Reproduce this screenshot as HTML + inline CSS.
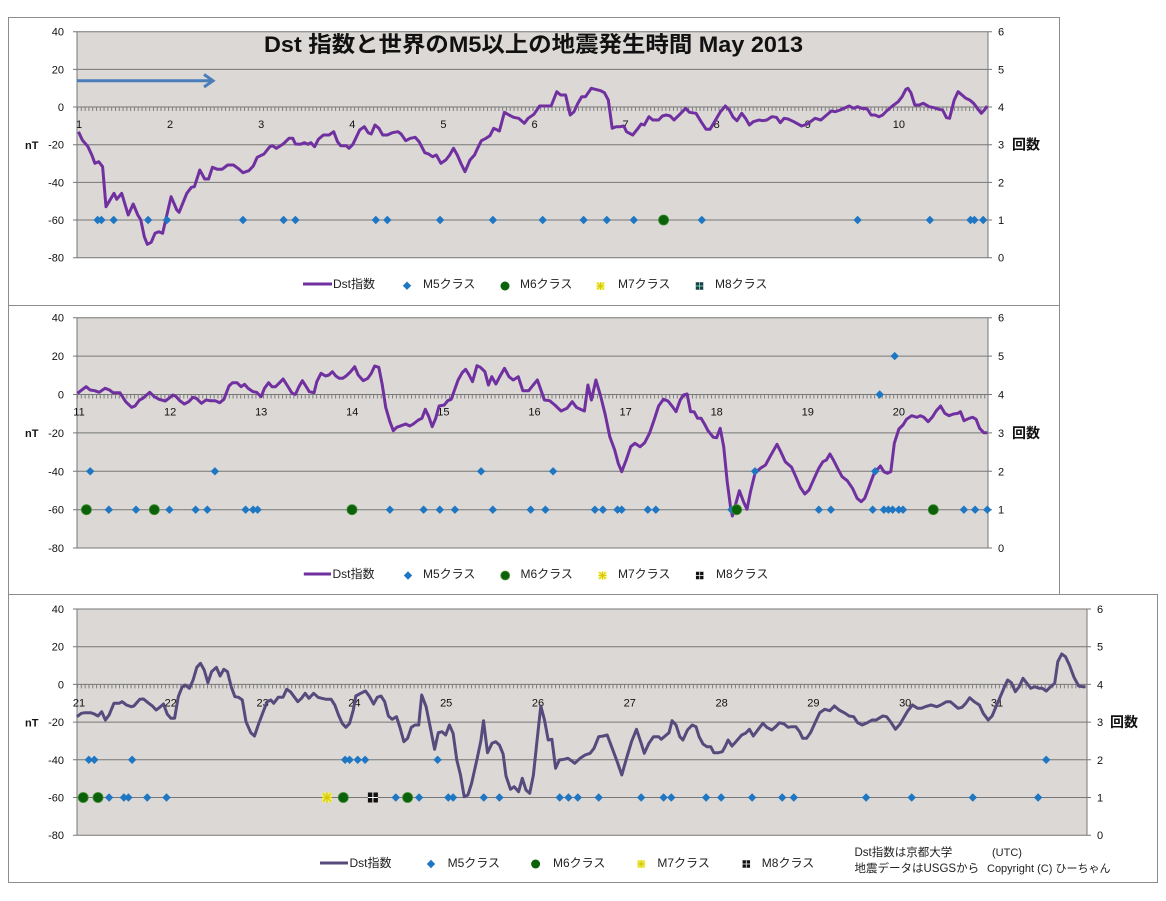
<!DOCTYPE html>
<html><head><meta charset="utf-8"><style>
html,body{margin:0;padding:0;background:#fff;}
svg{display:block;}
text{font-family:"Liberation Sans","Noto Sans CJK JP",sans-serif;fill:#111;}
.ax{font-size:11px;}
.lg{font-size:12px;fill:#222;}
.b{font-weight:bold;}
</style></head><body>
<svg width="1166" height="901" viewBox="0 0 1166 901" xmlns="http://www.w3.org/2000/svg">
<defs>
<path id="dm" d="M0,-4.2L4.2,0L0,4.2L-4.2,0Z" fill="#1f77c4"/>
<g id="m6"><circle r="5" fill="#0b620b" stroke="#3a8a2a" stroke-width="0.8"/></g>
<g id="m7"><rect x="-5" y="-5" width="10" height="10" fill="#f4f25a" opacity="0.8"/><path d="M-5,0H5M0,-5V5M-4,-4L4,4M-4,4L4,-4" stroke="#d8c800" stroke-width="1.2"/></g>
<g id="m8"><rect x="-5" y="-5" width="10" height="10" fill="#111"/><path d="M-5,0H5M0,-5V5" stroke="#fff" stroke-width="1"/></g>
<pattern id="tk1" patternUnits="userSpaceOnUse" x="77" y="0" width="3.796" height="10"><rect x="0" y="0" width="1" height="10" fill="#7d7d7d"/></pattern>
<pattern id="tk3" patternUnits="userSpaceOnUse" x="77" y="0" width="3.825" height="10"><rect x="0" y="0" width="1" height="10" fill="#7d7d7d"/></pattern>
</defs>
<rect width="1166" height="901" fill="#fff"/>

<rect x="8.5" y="17.5" width="1051" height="288" fill="none" stroke="#8c8c8c"/>
<rect x="8.5" y="305.5" width="1051" height="289" fill="none" stroke="#8c8c8c"/>
<rect x="8.5" y="594.5" width="1149" height="288" fill="none" stroke="#8c8c8c"/>

<!-- ============ PANEL 1 ============ -->
<rect x="77" y="31.7" width="911" height="226" fill="#dbd8d5"/>
<g stroke="#777" stroke-width="1" fill="none">
<path d="M73,31.7H988M73,69.4H988M73,107H988M73,144.7H988M73,182.4H988M73,220H988M73,257.7H988"/>
<path d="M988,31.7H992M988,69.4H992M988,107H992M988,144.7H992M988,182.4H992M988,220H992M988,257.7H992"/>
<path d="M77,31.7V257.7M988,31.7V257.7"/>
</g>
<rect x="77" y="107" width="911" height="4" fill="url(#tk1)"/>
<g class="ax" text-anchor="end">
<text x="64" y="35.7">40</text><text x="64" y="73.4">20</text><text x="64" y="111">0</text><text x="64" y="148.7">-20</text><text x="64" y="186.4">-40</text><text x="64" y="224">-60</text><text x="64" y="261.7">-80</text>
</g>
<g class="ax">
<text x="998" y="35.7">6</text><text x="998" y="73.4">5</text><text x="998" y="111">4</text><text x="998" y="148.7">3</text><text x="998" y="186.4">2</text><text x="998" y="224">1</text><text x="998" y="261.7">0</text>
</g>
<text x="25" y="149" class="b" style="font-size:11px">nT</text>
<text x="1012" y="149.5" class="b" style="font-size:14px">回数</text>
<g class="ax" text-anchor="middle">
<text x="79" y="128">1</text><text x="170.1" y="128">2</text><text x="261.2" y="128">3</text><text x="352.3" y="128">4</text><text x="443.4" y="128">5</text><text x="534.5" y="128">6</text><text x="625.6" y="128">7</text><text x="716.7" y="128">8</text><text x="807.8" y="128">9</text><text x="898.9" y="128">10</text>
</g>
<text x="264" y="52" class="b" style="font-size:22px" textLength="539" lengthAdjust="spacingAndGlyphs">Dst 指数と世界のM5以上の地震発生時間  May 2013</text>
<path d="M77,80.7H212" stroke="#4a7ebb" stroke-width="3" fill="none"/>
<path d="M204,74.5L213,80.7L204,87" stroke="#4a7ebb" stroke-width="3" fill="none"/>
<polyline fill="none" stroke="#7030a0" stroke-width="3" stroke-linejoin="round" points="78.5,131.7 82.3,140 88,146.7 91.8,155 94.9,163.3 98.7,161.7 102.6,166.7 106,206.7 111,198.3 114,193.3 116.7,199.3 121.7,193.3 128.2,215 133.2,204 137.8,215 140.8,220 144.3,236.7 147.3,244.3 151.2,242.3 155,233.3 158.8,231.7 162.6,233.3 171.1,196.7 176.8,210 179.1,212.3 186.8,193.3 191.4,187.3 194.4,186.7 199.8,170 204.7,179 208.6,179 212.4,167.3 217.4,169.3 222,169.3 227.7,165 233.4,165 238,168.3 243,172.7 248.8,170.7 253.3,166 257.2,157.3 264,154 269.8,146.7 272.5,145.7 276.3,148.3 283.2,144 289,138.3 292.8,138.3 295.4,144 300.4,144.3 304.2,142.7 308.1,144.3 310.8,142.7 314.6,146.7 318.4,139.3 323.4,135 329.1,135 333.7,131.7 337.5,141.7 340.6,145.7 346.3,145.7 349,148.3 352.9,144.3 359.7,130 364.3,126.7 368.2,132.7 371.2,134 375,125 378.9,128.3 382.7,135 387.3,135 392.3,132.7 398,131.7 401.1,134 405.7,140.7 410.3,138.3 415.2,137.3 419.1,141.7 424.8,152.7 428.6,154 432.5,156.7 436.3,155 440.9,163.3 445.8,160 449.7,155 453.5,148.3 457.3,155 461.2,164 465,171.7 470,160 474.5,155 477.6,148.3 481.4,140.7 486,138.3 489.9,135.7 493.7,128.3 499.4,131 504.4,112.3 509,115 513.6,117.3 518.6,118.3 524.3,123.3 528.1,118.3 533.9,114.3 539.6,106 545.3,106 551.1,106 556.8,91.7 560.6,95 565.6,95 570.2,115 574,111.7 577.9,103.3 581.7,96.7 585.5,96.7 591.3,88.3 600.6,90.7 604.4,92.7 608.3,100 612.2,128.3 616,126.7 619.9,126.7 623.8,126 626.5,131.7 632.7,135 637.3,129.3 641.2,124 644.3,125 648.9,116.7 652.8,120 658.6,120 662.4,116 666.3,115 670.2,116 674,120 679.8,114.3 685.6,108.3 689.5,112.3 696,113.3 701.1,121.7 706.1,129.3 710,129.3 714.6,121.7 720.4,111.7 725.4,106 729.3,110 733.2,117.3 737,120.7 741.7,113.3 745.5,118.3 749.4,125 753.3,121.7 759,120 762.9,120.7 766.8,120 771.8,116.7 776.4,117.3 780.3,122.7 784.2,118.3 788,119 793.8,121.7 801.6,126 807.4,124 810.5,121.7 815.1,118.3 820.9,120 826.7,115 831.3,111 835.2,111.7 840.2,110 845.2,107.7 849.1,106 853.7,108.3 857.6,106.7 861.5,108.3 867.3,109 871.1,115 875,115 878.9,116.7 882.7,115 886.6,111 892.4,106 898.2,101.7 902.1,96.7 905.9,89.3 907.9,88.3 910.9,92.7 914.8,105 919.4,105 923.3,103.3 929.1,106.7 934.1,107.7 938.8,109.3 942.6,110 946.5,117.7 949.6,118.3 954.2,100 958.1,91.7 962,95 965.8,98.3 969.7,100 973.6,103.3 977.4,108.3 981.3,113.3 984.4,110 987.1,106"/>
<g>
<use href="#dm" x="97.6" y="220"/><use href="#dm" x="101.4" y="220"/><use href="#dm" x="113.7" y="220"/><use href="#dm" x="148.1" y="220"/><use href="#dm" x="166.9" y="220"/><use href="#dm" x="243" y="220"/><use href="#dm" x="283.6" y="220"/><use href="#dm" x="295.4" y="220"/><use href="#dm" x="375.8" y="220"/><use href="#dm" x="387.3" y="220"/><use href="#dm" x="440.1" y="220"/><use href="#dm" x="492.9" y="220"/><use href="#dm" x="542.7" y="220"/><use href="#dm" x="583.6" y="220"/><use href="#dm" x="606.8" y="220"/><use href="#dm" x="633.8" y="220"/><use href="#dm" x="701.8" y="220"/><use href="#dm" x="857.6" y="220"/><use href="#dm" x="929.9" y="220"/><use href="#dm" x="970.5" y="220"/><use href="#dm" x="974.4" y="220"/><use href="#dm" x="983.2" y="220"/>
<use href="#m6" x="663.6" y="220"/>
</g>
<path d="M303,284H332" stroke="#7030a0" stroke-width="3"/>
<text x="333" y="288" class="lg">Dst指数</text>
<use href="#dm" x="407" y="285.7"/>
<text x="423" y="288" class="lg">M5クラス</text>
<circle cx="505" cy="286" r="4.5" fill="#0b620b"/>
<text x="520" y="288" class="lg">M6クラス</text>
<g transform="translate(600.5,286) scale(0.8)"><use href="#m7"/></g>
<text x="618" y="288" class="lg">M7クラス</text>
<g transform="translate(699.5,286) scale(0.75)"><rect x="-5" y="-5" width="10" height="10" fill="#1d3b4a"/><path d="M-5,0H5M0,-5V5" stroke="#8fb" stroke-width="1"/></g>
<text x="715" y="288" class="lg">M8クラス</text>

<!-- ============ PANEL 2 ============ -->
<rect x="77" y="317.7" width="911" height="230.3" fill="#dbd8d5"/>
<g stroke="#777" stroke-width="1" fill="none">
<path d="M73,317.7H988M73,356.1H988M73,394.5H988M73,432.9H988M73,471.3H988M73,509.7H988M73,548H988"/>
<path d="M988,317.7H992M988,356.1H992M988,394.5H992M988,432.9H992M988,471.3H992M988,509.7H992M988,548H992"/>
<path d="M77,317.7V548M988,317.7V548"/>
</g>
<rect x="77" y="394.5" width="911" height="4" fill="url(#tk1)"/>
<g class="ax" text-anchor="end">
<text x="64" y="321.7">40</text><text x="64" y="360.1">20</text><text x="64" y="398.5">0</text><text x="64" y="436.9">-20</text><text x="64" y="475.3">-40</text><text x="64" y="513.7">-60</text><text x="64" y="552">-80</text>
</g>
<g class="ax">
<text x="998" y="321.7">6</text><text x="998" y="360.1">5</text><text x="998" y="398.5">4</text><text x="998" y="436.9">3</text><text x="998" y="475.3">2</text><text x="998" y="513.7">1</text><text x="998" y="552">0</text>
</g>
<text x="25" y="437" class="b" style="font-size:11px">nT</text>
<text x="1012" y="438" class="b" style="font-size:14px">回数</text>
<g class="ax" text-anchor="middle">
<text x="79" y="415.5">11</text><text x="170.1" y="415.5">12</text><text x="261.2" y="415.5">13</text><text x="352.3" y="415.5">14</text><text x="443.4" y="415.5">15</text><text x="534.5" y="415.5">16</text><text x="625.6" y="415.5">17</text><text x="716.7" y="415.5">18</text><text x="807.8" y="415.5">19</text><text x="898.9" y="415.5">20</text>
</g>
<polyline fill="none" stroke="#7030a0" stroke-width="3" stroke-linejoin="round" points="77.5,393.3 80.9,390.7 86.1,386.7 90.2,390 94.7,390.7 99.2,392.3 105,388.3 109.5,390 113,392.7 119.9,392.7 125.7,401.7 131.6,407.3 135,406 139.5,400 142.9,398.3 149.8,392.3 154.3,396.7 159.1,399.3 165.3,401 168.8,398.3 172.9,395 176.3,396.7 179.8,400.7 184.3,404 188.7,401.7 192.9,397.3 196.3,398.3 201.5,403.3 206,400 210.1,400.7 215.3,400.7 219.7,402.7 223.9,399.3 229,386 232.5,382.7 237,382.7 241.1,386.7 244.5,384.3 248,388.3 253.1,391.7 256.6,392.3 261.1,396.7 264.5,388.3 268.6,382.7 272.1,386.7 275.5,386.7 279.6,382.7 283.1,379 287.6,386 292.1,393.3 295.5,394.3 298.9,386.7 302.4,380.7 305.8,386 309.3,391.7 314.1,392.7 316.8,381.7 321,373.3 325.5,376 328.9,375 332.4,371.7 335.8,376 339.2,378.3 342.7,378.3 346.1,376 350.6,371.7 354.7,366.7 358.2,375 363.3,380.7 367.8,378.3 371.3,373.3 374.7,366 378.8,367.3 382.3,385 385.7,407.3 389.9,421.7 393.3,430.7 396.7,427.3 401.2,425.7 405.7,424 409.8,426 413.3,424 418.4,420 421.9,418.3 425.3,409.3 428.8,416.7 432.2,426.7 435.7,418.3 439.1,406 444.3,405 447.7,400.7 451.2,399.3 453.9,391.7 458.1,380 462.2,372.7 465.6,369.3 469.1,375 472.5,381.7 477,365.7 480.4,367.3 484.9,371.7 488.4,385 491.8,376.7 495.9,384 500.1,376 504.5,368.3 509,376.7 513.2,380 518.3,376.7 522.8,390.7 528.7,390.7 533.2,385 537.4,380 540.9,390 544.4,400 549.6,400.7 554.8,405 561.1,411 567,408.3 572.2,401.7 576.4,407.3 582,410 584.4,411 587.9,385 591.4,400 595.9,380 600.8,396.7 605.3,415 609.8,436.7 614.7,450 618.2,463.3 621.7,471.7 626.2,460 630.7,446.7 634.9,443.3 640.1,446.7 644.7,442.7 649.5,433.3 654.1,420 658.6,406 663.5,399.3 668,401 672.5,406.7 676,411.7 680.2,400 683.7,395 687.1,394 690.6,411.7 694.1,411.7 697.6,418.3 701.1,418.3 704.5,424 708,430.7 713.3,437.3 716.7,437.7 720.2,428.3 723.7,446.7 727.2,481.7 730.7,508.3 732.4,516 735.9,503.3 739.4,490.7 743.5,501.7 747,509.3 750.5,491.7 755,473.3 760.3,468.3 765.5,465 770,456.7 777,444.3 781.2,452.7 785.3,461.7 791.6,467.3 795.8,476.7 800.3,487.3 804.8,494 809,490 814.2,478.3 818.8,468.3 822.9,461.7 826.4,460 829.9,454 833.4,460 837.6,468.3 842.1,476.7 847.3,480.7 852.5,488.3 857.1,498.3 861.2,501.7 864.7,498.3 868.9,487.3 873.4,475 876.9,470 880.4,466 883.9,471.7 887.4,473.3 890.8,471.7 894.3,443.3 898.9,429 903,425 906.5,419.3 911.7,415.7 917,417.3 920.4,415.7 923.9,417.3 928.1,421.7 932.6,416.7 936.1,411 940.6,406 944.8,413.3 949,415.7 953.5,414 958,413.3 960.5,411.7 964,420.7 969.2,418.3 972.7,417.3 976.1,419.3 979.6,428.3 983.8,432.7 987.3,432.7"/>
<g>
<use href="#dm" x="108.8" y="509.7"/><use href="#dm" x="136" y="509.7"/><use href="#dm" x="169.4" y="509.7"/><use href="#dm" x="195.6" y="509.7"/><use href="#dm" x="207.3" y="509.7"/><use href="#dm" x="245.6" y="509.7"/><use href="#dm" x="253.1" y="509.7"/><use href="#dm" x="257.6" y="509.7"/><use href="#dm" x="389.9" y="509.7"/><use href="#dm" x="423.6" y="509.7"/><use href="#dm" x="439.8" y="509.7"/><use href="#dm" x="454.9" y="509.7"/><use href="#dm" x="492.8" y="509.7"/><use href="#dm" x="530.7" y="509.7"/><use href="#dm" x="545.4" y="509.7"/><use href="#dm" x="594.9" y="509.7"/><use href="#dm" x="602.9" y="509.7"/><use href="#dm" x="617.5" y="509.7"/><use href="#dm" x="621.7" y="509.7"/><use href="#dm" x="647.8" y="509.7"/><use href="#dm" x="655.8" y="509.7"/><use href="#dm" x="731.4" y="509.7"/><use href="#dm" x="818.8" y="509.7"/><use href="#dm" x="830.9" y="509.7"/><use href="#dm" x="872.7" y="509.7"/><use href="#dm" x="883.9" y="509.7"/><use href="#dm" x="888.4" y="509.7"/><use href="#dm" x="892.6" y="509.7"/><use href="#dm" x="898.8" y="509.7"/><use href="#dm" x="903" y="509.7"/><use href="#dm" x="963.9" y="509.7"/><use href="#dm" x="975.1" y="509.7"/><use href="#dm" x="987.3" y="509.7"/>
<use href="#dm" x="90.2" y="471.3"/><use href="#dm" x="214.9" y="471.3"/><use href="#dm" x="481.1" y="471.3"/><use href="#dm" x="553.1" y="471.3"/><use href="#dm" x="755" y="471.3"/><use href="#dm" x="875.2" y="471.3"/>
<use href="#dm" x="879.7" y="394.5"/><use href="#dm" x="894.7" y="356.1"/>
<use href="#m6" x="86.4" y="509.7"/><use href="#m6" x="154.3" y="509.7"/><use href="#m6" x="352" y="509.7"/><use href="#m6" x="736.6" y="509.7"/><use href="#m6" x="933.3" y="509.7"/>
</g>
<path d="M303.8,574H331" stroke="#7030a0" stroke-width="3"/>
<text x="332.5" y="578" class="lg">Dst指数</text>
<use href="#dm" x="408" y="575.5"/>
<text x="423" y="578" class="lg">M5クラス</text>
<circle cx="505.2" cy="575.5" r="4.5" fill="#0b620b" stroke="#5a9a3a" stroke-width="0.8"/>
<text x="520.5" y="578" class="lg">M6クラス</text>
<g transform="translate(602.5,575.5) scale(0.8)"><use href="#m7"/></g>
<text x="618" y="578" class="lg">M7クラス</text>
<g transform="translate(699.7,575.5) scale(0.75)"><use href="#m8"/></g>
<text x="716" y="578" class="lg">M8クラス</text>

<!-- ============ PANEL 3 ============ -->
<rect x="77" y="609" width="1010" height="226.2" fill="#dbd8d5"/>
<g stroke="#777" stroke-width="1" fill="none">
<path d="M73,609H1087M73,646.7H1087M73,684.4H1087M73,722.1H1087M73,759.8H1087M73,797.5H1087M73,835.2H1087"/>
<path d="M1087,609H1091M1087,646.7H1091M1087,684.4H1091M1087,722.1H1091M1087,759.8H1091M1087,797.5H1091M1087,835.2H1091"/>
<path d="M77,609V835.2M1087,609V835.2"/>
</g>
<rect x="77" y="684.4" width="1010" height="4" fill="url(#tk3)"/>
<g class="ax" text-anchor="end">
<text x="64" y="613">40</text><text x="64" y="650.7">20</text><text x="64" y="688.4">0</text><text x="64" y="726.1">-20</text><text x="64" y="763.8">-40</text><text x="64" y="801.5">-60</text><text x="64" y="839.2">-80</text>
</g>
<g class="ax">
<text x="1097" y="613">6</text><text x="1097" y="650.7">5</text><text x="1097" y="688.4">4</text><text x="1097" y="726.1">3</text><text x="1097" y="763.8">2</text><text x="1097" y="801.5">1</text><text x="1097" y="839.2">0</text>
</g>
<text x="25" y="726.5" class="b" style="font-size:11px">nT</text>
<text x="1110" y="727" class="b" style="font-size:14px">回数</text>
<g class="ax" text-anchor="middle">
<text x="79" y="706.5">21</text><text x="170.8" y="706.5">22</text><text x="262.6" y="706.5">23</text><text x="354.4" y="706.5">24</text><text x="446.2" y="706.5">25</text><text x="538" y="706.5">26</text><text x="629.8" y="706.5">27</text><text x="721.6" y="706.5">28</text><text x="813.4" y="706.5">29</text><text x="905.2" y="706.5">30</text><text x="997" y="706.5">31</text>
</g>
<polyline fill="none" stroke="#574a7c" stroke-width="3" stroke-linejoin="round" points="76.9,716.7 81.4,713.3 85.1,712.7 90.6,712.7 94.3,714 98,716 101.7,711.7 105.4,720 109.1,715 113.9,703.3 119.1,703.3 122.1,701.7 126.5,705 131.3,706.7 133.9,706 139.8,699.3 143.5,699 148,702.7 152.4,706 156.1,710 159.8,707.3 163.5,704 167.2,714 170.9,718.3 174.6,718.3 178.3,696.7 182,687.3 185,685 189.4,688.3 193.1,680 196.8,667.3 200.5,663.3 204.2,670 207.9,682.7 211.6,671.7 216.4,667.3 220.1,676 223.8,669.3 227.5,671.7 231.2,686.7 234.9,696.7 238.6,697.3 242.3,700 246,721.7 250.8,732.7 254.5,736 258.2,725 262.6,713.3 267.1,701.7 270.8,700 273.7,703.3 278.2,697.3 283,697.3 286.7,689.3 290.4,691.7 294.1,696.7 297.8,701.7 301.5,698.3 305.2,693.3 308.9,698.3 313.7,693.3 318.1,697.3 321.8,698.3 326.3,699.3 331.1,699.3 334.8,705 338.5,715 342.2,723.3 345.9,727.3 349.6,723.3 353.3,710 355.8,696 360.7,693.3 365.5,691 369.2,696 373.6,704 377.3,697.3 381,696 384.7,701.7 388.4,716 392.1,719.3 396.5,716.7 400.2,728.3 403.9,741.7 407.6,738.3 411.3,727.3 415,725 418.7,725 421.7,695 426.1,706.7 429.8,725 434.6,749.3 438.3,732.7 442,731.7 445.7,735 449.4,725 453.1,733.3 456.8,760 460.5,775 464.2,796.7 467.9,795 471.6,783.3 477.2,758.3 480.9,740.7 483.5,720.7 487.5,752.7 492,743.3 495.7,741.7 499.4,745 503.1,754 506,776 510.5,789.3 514.2,786.7 518.6,791.7 522.3,778.3 526,790 529.7,793.3 533.4,775 537.1,740 540.8,706 544.5,720 548.2,740 551.9,739.3 555.6,768.3 559.3,760 564.1,759.3 567.8,758.3 571.5,760.7 574.7,763.3 580.1,758.3 585.1,755 590.1,753.3 594,748.3 598.7,736.7 603.3,736 607.2,735 612.2,748.3 617.2,761.7 621.8,775 626.5,758.3 631.5,741.7 636.5,729.3 641.2,743.3 644.3,753.3 648.9,743.3 653.5,736.7 658.6,736.7 661.3,739.3 666.3,735 669,732.7 672.1,720.7 676,725 679.8,736.7 682.9,740 687.5,730 692.2,725 696,726.7 699.1,736.7 703,744 706.9,746.7 710.7,746.7 713.8,752.7 718.5,752.7 722.3,751.7 725.4,746 728.1,740 732,746 735.9,741.7 741.7,735 745.5,733.3 749.4,729.3 753.3,736 759,728.3 762.9,723.3 766.8,727.3 771.8,730 775.7,726.7 779.5,722.7 784.2,724 788,727.3 791.9,726.7 795.8,726.7 799.6,731.7 802.7,738.3 806.6,738.3 810.5,732.7 815.1,722.7 819.7,712.7 824.8,709.3 829.8,710.7 834.4,706 839.1,710 845.2,713.3 849.1,716 853.7,716.7 857.6,722.7 862.2,725 867.3,722.7 872.3,720 876.2,720 878.9,718.3 882.7,716 886.6,716.7 890.5,721.7 895.5,729.3 900.1,724 904,717.3 907.9,710.7 912.5,705 917.5,708.3 921.4,708.3 925.2,706.7 931,705 936.8,706.7 940.7,705 946.5,701.7 950.4,701.7 954.2,705 958.1,708.3 962,707.3 965.8,703.3 969.7,697.7 974.3,701.7 979.4,705 983.2,713.3 988.2,720 992.1,716 996,706.7 1000.6,696 1004.5,686.7 1007.6,680 1011.4,682.7 1015.3,691.7 1019.2,686.7 1023,678.3 1026.9,683.3 1030.8,688.3 1034.6,686.7 1039.3,688.3 1042.4,688.3 1046.2,691 1050.1,687.3 1054.7,683.3 1057.8,661.7 1061.7,654 1065.5,656.7 1069.4,665 1074,677.3 1078.7,686 1082.5,686.7 1085.6,686.7"/>
<g>
<use href="#dm" x="88.8" y="759.8"/><use href="#dm" x="94.3" y="759.8"/><use href="#dm" x="132.1" y="759.8"/><use href="#dm" x="345.1" y="759.8"/><use href="#dm" x="349.6" y="759.8"/><use href="#dm" x="357.7" y="759.8"/><use href="#dm" x="365.1" y="759.8"/><use href="#dm" x="437.6" y="759.8"/><use href="#dm" x="1046.2" y="759.8"/>
<use href="#dm" x="109.1" y="797.5"/><use href="#dm" x="123.9" y="797.5"/><use href="#dm" x="128.4" y="797.5"/><use href="#dm" x="147.2" y="797.5"/><use href="#dm" x="166.5" y="797.5"/><use href="#dm" x="395.8" y="797.5"/><use href="#dm" x="419.1" y="797.5"/><use href="#dm" x="448.3" y="797.5"/><use href="#dm" x="453.1" y="797.5"/><use href="#dm" x="483.8" y="797.5"/><use href="#dm" x="499.4" y="797.5"/><use href="#dm" x="559.7" y="797.5"/><use href="#dm" x="568.5" y="797.5"/><use href="#dm" x="577.8" y="797.5"/><use href="#dm" x="598.7" y="797.5"/><use href="#dm" x="641.2" y="797.5"/><use href="#dm" x="663.6" y="797.5"/><use href="#dm" x="671.3" y="797.5"/><use href="#dm" x="706.1" y="797.5"/><use href="#dm" x="721.2" y="797.5"/><use href="#dm" x="752.1" y="797.5"/><use href="#dm" x="782.2" y="797.5"/><use href="#dm" x="793.8" y="797.5"/><use href="#dm" x="866.1" y="797.5"/><use href="#dm" x="911.7" y="797.5"/><use href="#dm" x="972.8" y="797.5"/><use href="#dm" x="1038.1" y="797.5"/>
<use href="#m6" x="83.2" y="797.5"/><use href="#m6" x="98" y="797.5"/><use href="#m6" x="343.3" y="797.5"/><use href="#m6" x="407.6" y="797.5"/>
<use href="#m7" x="327" y="797.5"/>
<use href="#m8" x="372.9" y="797.5"/>
</g>
<path d="M320,863H348" stroke="#574a7c" stroke-width="3"/>
<text x="349.5" y="867" class="lg">Dst指数</text>
<use href="#dm" x="431" y="864"/>
<text x="447.6" y="867" class="lg">M5クラス</text>
<circle cx="535.6" cy="864" r="4.5" fill="#0b620b"/>
<text x="553" y="867" class="lg">M6クラス</text>
<g transform="translate(641.2,864) scale(0.8)"><use href="#m7"/></g>
<text x="657.4" y="867" class="lg">M7クラス</text>
<g transform="translate(746.3,864) scale(0.75)"><use href="#m8"/></g>
<text x="761.8" y="867" class="lg">M8クラス</text>
<text x="854.5" y="856" style="font-size:11.5px;fill:#222">Dst指数は京都大学</text>
<text x="992" y="856" style="font-size:11px;fill:#222">(UTC)</text>
<text x="854.5" y="872" style="font-size:11.5px;fill:#222">地震データはUSGSから</text>
<text x="987" y="872" style="font-size:11px;fill:#222">Copyright (C) ひーちゃん</text>
</svg>
</body></html>
